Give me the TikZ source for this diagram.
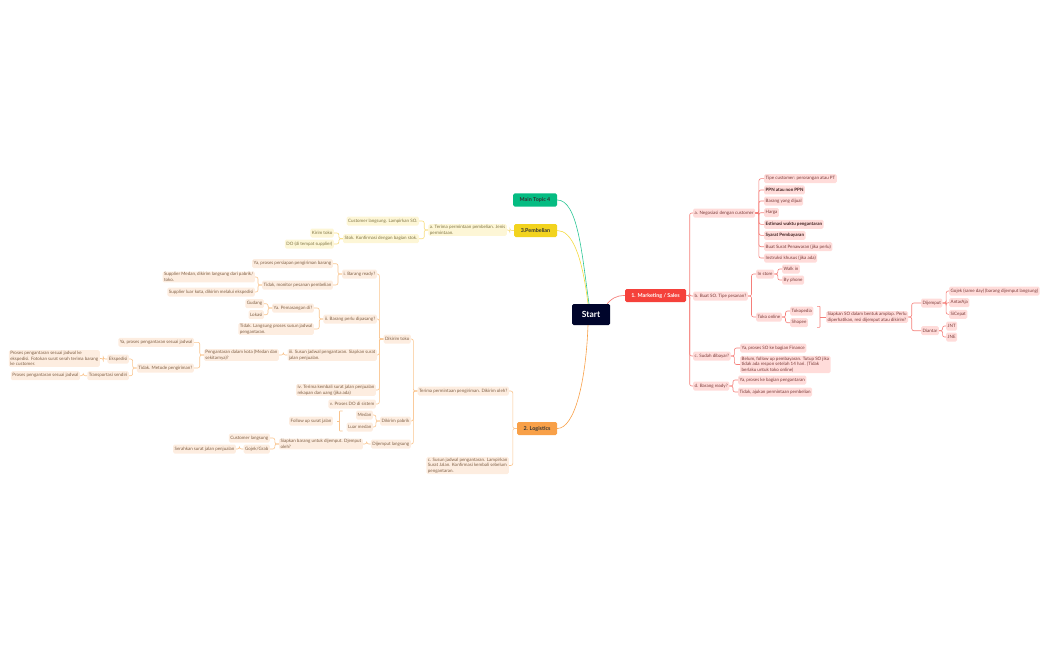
\documentclass[tikz,border=0pt]{standalone}
\usepackage{fontspec}
\setmainfont{Lato}
\definecolor{startcol}{HTML}{00052B}
\definecolor{redcol}{HTML}{F5413B}
\definecolor{redline}{HTML}{F57F7A}
\definecolor{redfill}{HTML}{FFDCDA}
\definecolor{redtext}{HTML}{7A3A38}
\definecolor{orangecol}{HTML}{F8A048}
\definecolor{orangeline}{HTML}{F9C48E}
\definecolor{orangefill}{HTML}{FDEDE0}
\definecolor{orangetext}{HTML}{7E5F45}
\definecolor{yellowcol}{HTML}{F2D31E}
\definecolor{yellowline}{HTML}{F8DD80}
\definecolor{yellowfill}{HTML}{FDF6D6}
\definecolor{yellowtext}{HTML}{7F7443}
\definecolor{greencol}{HTML}{05BC82}
\tikzset{
    topic/.style={rounded corners=1.5pt,inner sep=0pt,minimum height=13pt,font=\fontsize{5.4}{6}\selectfont\bfseries},
    leaf/.style={rounded corners=1.5pt,inner xsep=1.5pt,inner ysep=1pt,minimum height=9pt,align=left,font=\fontsize{4.5}{5.6}\selectfont},
    rednode/.style={leaf,fill=redfill,text=redtext},
    redbold/.style={rednode,text=redtext!50!black,font=\fontsize{4.5}{5.6}\selectfont\bfseries},
    orangenode/.style={leaf,fill=orangefill,text=orangetext},
    yellownode/.style={leaf,fill=yellowfill,text=yellowtext},
    redwire/.style={draw=redline,line width=0.6pt,rounded corners=2pt},
    orangewire/.style={draw=orangeline,line width=0.6pt,rounded corners=2pt},
    yellowwire/.style={draw=yellowline,line width=0.6pt,rounded corners=2pt}
}
\begin{document}
\begin{tikzpicture}[x=1pt,y=-1pt]
    \useasboundingbox (0,0) rectangle (1050,650);
    \node[fill=startcol,text=white,rounded corners=1.5pt,minimum width=38pt,minimum height=21pt,inner sep=0pt,font=\fontsize{8.5}{9}\selectfont\bfseries] (start) at (591,314.5) {Start};
    \node[topic,fill=redcol,text=white,minimum width=61pt] (mkt) at (655.5,295.5) {1. Marketing / Sales};
    \node[topic,fill=orangecol,text=black!80,minimum width=40pt] (logi) at (537,428.5) {2. Logistics};
    \node[topic,fill=yellowcol,text=black!80,minimum width=43pt] (beli) at (535.5,230.5) {3.Pembelian};
    \node[topic,fill=greencol,text=black!80,minimum width=44pt] (main) at (535,200) {Main Topic 4};
    % marketing
    \begin{scope}[every node/.append style={anchor=west}]
        \node[rednode] (nego) at (693,213) {a. Negosiasi dengan customer};
        \node[rednode] (tipe) at (764,178.7) {Tipe customer: perorangan atau PT};
        \node[redbold] (ppn) at (764,190) {PPN atau non PPN};
        \node[rednode] (barang) at (764,201) {Barang yang dijual};
        \node[rednode] (harga) at (764,212.7) {Harga};
        \node[redbold] (esti) at (764,224.3) {Estimasi waktu pengantaran};
        \node[redbold] (syarat) at (764,235.3) {Syarat Pembayaran};
        \node[rednode] (surat) at (764,246.7) {Buat Surat Penawaran (jika perlu)};
        \node[rednode] (instr) at (764,258) {Instruksi khusus (jika ada)};
        \node[rednode] (so) at (693,296) {b. Buat SO. Tipe pesanan?};
        \node[rednode] (instore) at (756,274) {In store};
        \node[rednode] (walk) at (782,269) {Walk in};
        \node[rednode] (phone) at (782,280) {By phone};
        \node[rednode] (online) at (756,317) {Toko online};
        \node[rednode] (toped) at (790,311) {Tokopedia};
        \node[rednode] (shopee) at (790,322.7) {Shopee};
        \node[rednode] (amplop) at (826,317) {Siapkan SO dalam bentuk amplop. Perlu\\ diperhatikan, resi dijemput atau dikirim?};
        \node[rednode] (jemput) at (921,303) {Dijemput};
        \node[rednode] (antar) at (921,330.7) {Diantar};
        \node[rednode] (gojek) at (949,291) {Gojek (same day) (barang dijemput langsung)};
        \node[rednode] (aja) at (949,302.7) {AntarAja};
        \node[rednode] (cepat) at (949,314.3) {SiCepat};
        \node[rednode] (jnt) at (946,326) {JNT};
        \node[rednode] (jne) at (946,337) {JNE};
        \node[rednode] (bayar) at (693,356) {c. Sudah dibayar?};
        \node[rednode] (finance) at (740,348) {Ya, proses SO ke bagian Finance};
        \node[rednode] (belum) at (740,364.5) {Belum, follow up pembayaran. Tutup SO jika\\ tidak ada respon setelah 14 hari. (Tidak\\ berlaku untuk toko online)};
        \node[rednode] (ready) at (693,386) {d. Barang ready?};
        \node[rednode] (kirim) at (738,380) {Ya, proses ke bagian pengantaran};
        \node[rednode] (ajukan) at (738,392) {Tidak, ajukan permintaan pembelian};
    \end{scope}
    % pembelian
    \begin{scope}[every node/.append style={anchor=east}]
        \node[yellownode] (minta) at (507,230) {a. Terima permintaan pembelian. Jenis\\ permintaan.};
        \node[yellownode] (lamp) at (419,221) {Customer langsung. Lampirkan SO.};
        \node[yellownode] (stok) at (419,238.7) {Stok. Konfirmasi dengan bagian stok.};
        \node[yellownode] (ktoko) at (334,233) {Kirim toko};
        \node[yellownode] (dotem) at (334,244) {DO (di tempat supplier)};
    \end{scope}
    % logistics
    \begin{scope}[every node/.append style={anchor=east}]
        \node[orangenode] (oleh) at (509,391) {Terima permintaan pengiriman. Dikirim oleh?};
        \node[orangenode] (susun) at (509,465.5) {c. Susun jadwal pengantaran. Lampirkan\\ Surat Jalan. Konfirmasi kembali sebelum\\ pengantaran.};
        \node[orangenode] (toko) at (411,339) {Dikirim toko};
        \node[orangenode] (pabrik) at (411,421) {Dikirim pabrik};
        \node[orangenode] (lgs) at (411,444) {Dijemput langsung};
        \node[orangenode] (one) at (377,274) {i. Barang ready?};
        \node[orangenode] (persiap) at (333,263.7) {Ya, proses persiapan pengiriman barang};
        \node[orangenode] (monitor) at (333,285) {Tidak, monitor pesanan pembelian};
        \node[orangenode] (medan) at (255,277) {Supplier Medan, dikirim langsung dari pabrik/\\ toko.};
        \node[orangenode] (luar) at (255,292) {Supplier luar kota, dikirim melalui ekspedisi};
        \node[orangenode] (two) at (377,319) {ii. Barang perlu dipasang?};
        \node[orangenode] (pasang) at (314,308) {Ya. Pemasangan di?};
        \node[orangenode] (gudang) at (264,303.7) {Gudang};
        \node[orangenode] (lokasi) at (264,314.7) {Lokasi};
        \node[orangenode] (langsung) at (314,329) {Tidak. Langsung proses susun jadwal\\ pengantaran.};
        \node[orangenode] (three) at (377,355) {iii. Susun jadwal pengantaran. Siapkan surat\\ jalan penjualan.};
        \node[orangenode] (dalam) at (279,355) {Pengantaran dalam kota (Medan dan\\ sekitarnya)?};
        \node[orangenode] (sesuai) at (194,342.3) {Ya, proses pengantaran sesuai jadwal};
        \node[orangenode] (metode) at (194,368) {Tidak. Metode pengiriman?};
        \node[orangenode] (eksp) at (129,359) {Ekspedisi};
        \node[orangenode] (trans) at (129,375.7) {Transportasi sendiri};
        \node[orangenode] (foto) at (100,358.5) {Proses pengantaran sesuai jadwal ke\\ ekspedisi. Fotokan surat serah terima barang\\ ke customer.};
        \node[orangenode] (jadwal) at (80,375.7) {Proses pengantaran sesuai jadwal};
        \node[orangenode] (four) at (376,390) {iv. Terima kembali surat jalan penjualan\\ rekapan dan uang (jika ada)};
        \node[orangenode] (five) at (376,404) {v. Proses DO di sistem};
        \node[orangenode] (mdn) at (373,415) {Medan};
        \node[orangenode] (lmdn) at (373,427) {Luar medan};
        \node[orangenode] (follow) at (333,421) {Follow up surat jalan};
        \node[orangenode] (siap) at (363,444) {Siapkan barang untuk dijemput. Djemput\\ oleh?};
        \node[orangenode] (cust) at (270,438) {Customer langsung};
        \node[orangenode] (grab) at (270,449) {Gojek/Grab};
        \node[orangenode] (serah) at (236,449) {Serahkan surat jalan penjualan};
    \end{scope}
    % connectors
    \draw[draw=greencol!85,line width=0.6pt] (main.east) .. controls (578,200) and (582,255) .. ([xshift=-2pt]start.north);
    \draw[draw=yellowcol!85,line width=0.6pt] (beli.east) .. controls (572,230.5) and (582,255) .. ([xshift=-3pt]start.north);
    \draw[draw=orangecol,line width=0.6pt] (logi.east) .. controls (575,428.5) and (586,380) .. ([xshift=-3pt]start.south);
    \draw[draw=redline,line width=0.7pt] ([xshift=-3pt]start.north east) .. controls (611,299) and (616,295.5) .. (mkt.west);
    \foreach \a/\b in {mkt/nego,mkt/so,mkt/bayar,mkt/ready,nego/tipe,nego/ppn,nego/barang,nego/harga,nego/esti,nego/syarat,nego/surat,nego/instr,so/instore,so/online,instore/walk,instore/phone,online/toped,online/shopee,amplop/jemput,amplop/antar,jemput/gojek,jemput/aja,jemput/cepat,antar/jnt,antar/jne,bayar/finance,bayar/belum,ready/kirim,ready/ajukan}
        \draw[redwire] (\a.east) -- ++(3.5,0) |- (\b.west);
    \foreach \a/\b in {beli/minta,minta/lamp,minta/stok,stok/ktoko,stok/dotem}
        \draw[yellowwire] (\a.west) -- ++(-4,0) |- (\b.east);
    \foreach \a/\b in {logi/oleh,logi/susun,oleh/toko,oleh/pabrik,oleh/lgs,toko/one,toko/two,toko/three,toko/four,toko/five,one/persiap,one/monitor,monitor/medan,monitor/luar,two/pasang,two/langsung,pasang/gudang,pasang/lokasi,three/dalam,dalam/sesuai,dalam/metode,metode/eksp,metode/trans,eksp/foto,trans/jadwal,pabrik/mdn,pabrik/lmdn,lgs/siap,siap/cust,siap/grab,grab/serah}
        \draw[orangewire] (\a.west) -- ++(-4,0) |- (\b.east);
    % summary brackets
    \coordinate (rb) at ([xshift=-9pt]amplop.west);
    \coordinate (rt) at ([yshift=-10.3pt]rb);
    \coordinate (rd) at ([yshift=10.7pt]rb);
    \draw[redwire,rounded corners=0.5pt] (rt) -- ++(3,0) |- (rd);
    \draw[redwire] ([xshift=3pt]rb) -- (amplop.west);
    \coordinate (lb) at ([xshift=9.5pt]follow.east);
    \coordinate (lt) at ([yshift=-10pt]lb);
    \coordinate (ld) at ([yshift=10pt]lb);
    \draw[orangewire,rounded corners=0.5pt] (lt) -- ++(-3,0) |- (ld);
    \draw[orangewire] ([xshift=-3pt]lb) -- ++(-3,0);
\end{tikzpicture}
\end{document}
